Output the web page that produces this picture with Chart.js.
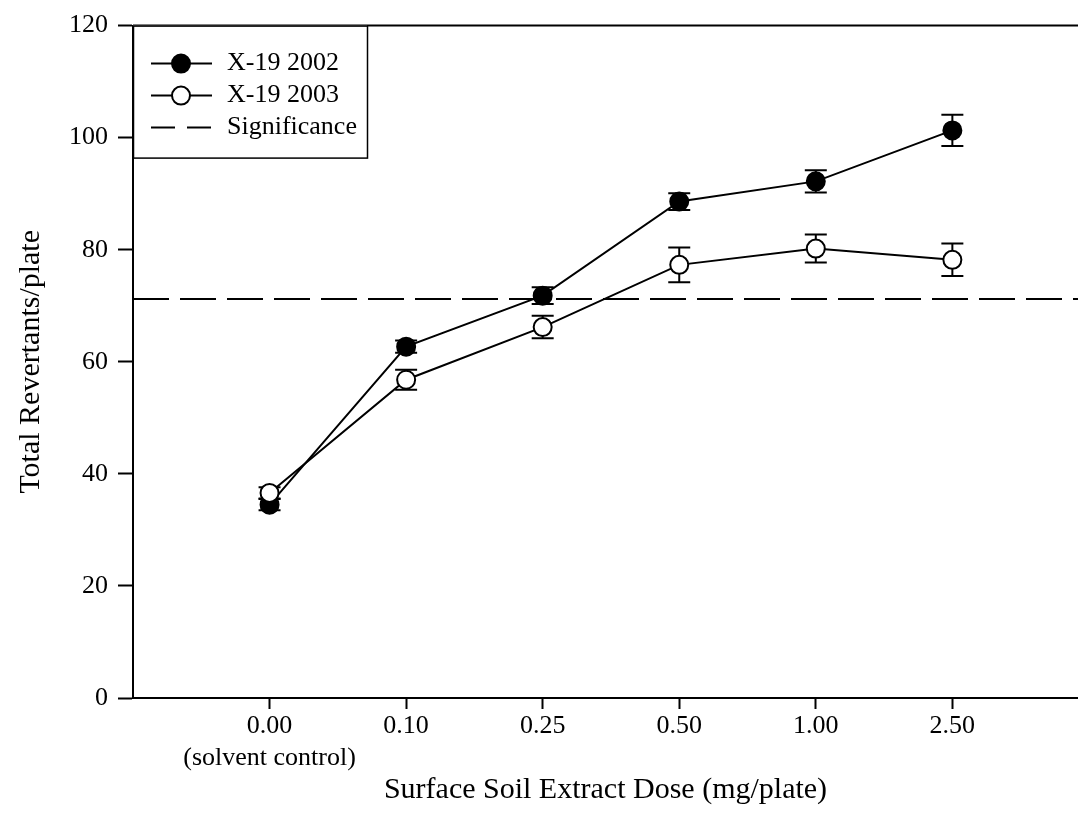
<!DOCTYPE html>
<html>
<head>
<meta charset="utf-8">
<script src="https://cdn.jsdelivr.net/npm/chart.js@4"></script>
<style>
  body { margin: 0; background: #fff; }
  canvas { display: block; }
</style>
</head>
<body>
<canvas id="doseChart" width="1078" height="831"></canvas>
<script>
// Dose categories (x axis) and the note under the first one
const doses = ['0.00', '0.10', '0.25', '0.50', '1.00', '2.50'];
const doseNotes = ['(solvent control)', '', '', '', '', ''];

// Mean revertants per plate and their error bars
const rev2002 = [34.5, 62.7, 71.8, 88.6, 92.2, 101.3];
const err2002 = [1.0, 1.1, 1.5, 1.5, 2.0, 2.8];
const rev2003 = [36.6, 56.8, 66.2, 77.3, 80.2, 78.2];
const err2003 = [1.0, 1.8, 2.0, 3.1, 2.5, 2.9];

// Significance threshold
const significance = 71.2;

const yTicks = [0, 20, 40, 60, 80, 100, 120];
const serif = 'Liberation Serif, Times New Roman, serif';

const xMin = -1;
const xMax = 5.92;

const toPoints = (vals) => vals.map((v, i) => ({ x: i, y: v }));

// Error bars, drawn under the markers
const errorBars = {
    id: 'errorBars',
    beforeDatasetsDraw(chart) {
        const { ctx, scales: { x, y } } = chart;
        ctx.save();
        ctx.strokeStyle = '#000';
        ctx.lineWidth = 2;
        chart.data.datasets.forEach(ds => {
            if (!ds.errors) return;
            ds.data.forEach((p, i) => {
                const px = x.getPixelForValue(p.x);
                const top = y.getPixelForValue(p.y + ds.errors[i]);
                const bot = y.getPixelForValue(p.y - ds.errors[i]);
                ctx.beginPath();
                ctx.moveTo(px, top); ctx.lineTo(px, bot);
                ctx.moveTo(px - 11, top); ctx.lineTo(px + 11, top);
                ctx.moveTo(px - 11, bot); ctx.lineTo(px + 11, bot);
                ctx.stroke();
            });
        });
        ctx.restore();
    }
};

// Top frame line plus the boxed legend in the upper-left corner
const frameAndLegend = {
    id: 'frameAndLegend',
    afterDraw(chart) {
        const { ctx, chartArea: area } = chart;
        ctx.save();
        ctx.strokeStyle = '#000';
        ctx.lineWidth = 2;
        ctx.beginPath();
        ctx.moveTo(area.left, area.top);
        ctx.lineTo(area.right, area.top);
        ctx.stroke();

        // legend box
        const boxL = area.left, boxT = area.top, boxW = 234, boxH = 132;
        ctx.fillStyle = '#fff';
        ctx.fillRect(boxL, boxT, boxW, boxH);
        ctx.lineWidth = 1.5;
        ctx.strokeRect(boxL + 0.5, boxT + 0.5, boxW, boxH);

        ctx.font = '26px ' + serif;
        ctx.textBaseline = 'middle';
        ctx.textAlign = 'left';
        chart.data.datasets.forEach((ds, i) => {
            const yy = boxT + 38 + i * 32;
            ctx.strokeStyle = '#000';
            ctx.lineWidth = 2;
            ctx.setLineDash(ds.borderDash ? [24, 12] : []);
            ctx.beginPath();
            ctx.moveTo(boxL + 18, yy);
            ctx.lineTo(boxL + 79, yy);
            ctx.stroke();
            ctx.setLineDash([]);
            if (ds.pointRadius > 0) {
                ctx.beginPath();
                ctx.arc(boxL + 48, yy, ds.pointRadius, 0, Math.PI * 2);
                ctx.fillStyle = ds.pointBackgroundColor;
                ctx.fill();
                ctx.stroke();
            }
            ctx.fillStyle = '#000';
            ctx.fillText(ds.label, boxL + 94, yy);
        });
        ctx.restore();
    }
};

const ctx = document.getElementById('doseChart').getContext('2d');
const chart = new Chart(ctx, {
    type: 'line',
    data: {
        datasets: [
            {
                label: 'X-19 2002',
                data: toPoints(rev2002),
                errors: err2002,
                borderColor: '#000',
                borderWidth: 2,
                pointRadius: 9,
                pointBorderWidth: 2,
                pointBackgroundColor: '#000',
                pointBorderColor: '#000',
                order: 1
            },
            {
                label: 'X-19 2003',
                data: toPoints(rev2003),
                errors: err2003,
                borderColor: '#000',
                borderWidth: 2,
                pointRadius: 9,
                pointBorderWidth: 2,
                pointBackgroundColor: '#fff',
                pointBorderColor: '#000',
                order: 0
            },
            {
                label: 'Significance',
                data: [{ x: xMin, y: significance }, { x: xMax, y: significance }],
                borderColor: '#000',
                borderWidth: 2,
                borderDash: [36, 11],
                pointRadius: 0,
                order: 2
            }
        ]
    },
    options: {
        responsive: false,
        animation: false,
        layout: {
            autoPadding: false,
            padding: { top: 25, right: 0, left: 0, bottom: 0 }
        },
        plugins: {
            legend: { display: false },
            tooltip: { enabled: false }
        },
        scales: {
            x: {
                type: 'linear',
                min: xMin,
                max: xMax,
                afterBuildTicks: (scale) => {
                    scale.ticks = doses.map((d, i) => ({ value: i }));
                },
                afterFit: (scale) => { scale.height = 133; },
                ticks: {
                    color: '#000',
                    font: { family: serif, size: 26 },
                    padding: 2,
                    maxRotation: 0,
                    autoSkip: false,
                    callback: (v) => doseNotes[v] ? [doses[v], doseNotes[v]] : doses[v]
                },
                grid: {
                    drawOnChartArea: false,
                    drawTicks: true,
                    tickLength: 11,
                    tickColor: '#000',
                    tickWidth: 2
                },
                border: { color: '#000', width: 2 },
                title: {
                    display: true,
                    text: 'Surface Soil Extract Dose (mg/plate)',
                    color: '#000',
                    font: { family: serif, size: 30 },
                    padding: { top: 0, bottom: 23 }
                }
            },
            y: {
                min: 0,
                max: 120,
                afterBuildTicks: (scale) => {
                    scale.ticks = yTicks.map(v => ({ value: v }));
                },
                afterFit: (scale) => { scale.width = 133; },
                ticks: {
                    color: '#000',
                    font: { family: serif, size: 26 },
                    padding: 10
                },
                grid: {
                    drawOnChartArea: false,
                    drawTicks: true,
                    tickLength: 15,
                    tickColor: '#000',
                    tickWidth: 2
                },
                border: { color: '#000', width: 2 },
                title: {
                    display: true,
                    text: 'Total Revertants/plate',
                    color: '#000',
                    font: { family: serif, size: 30 },
                    padding: { top: 13, bottom: 0 }
                }
            }
        }
    },
    plugins: [errorBars, frameAndLegend]
});
</script>
</body>
</html>
